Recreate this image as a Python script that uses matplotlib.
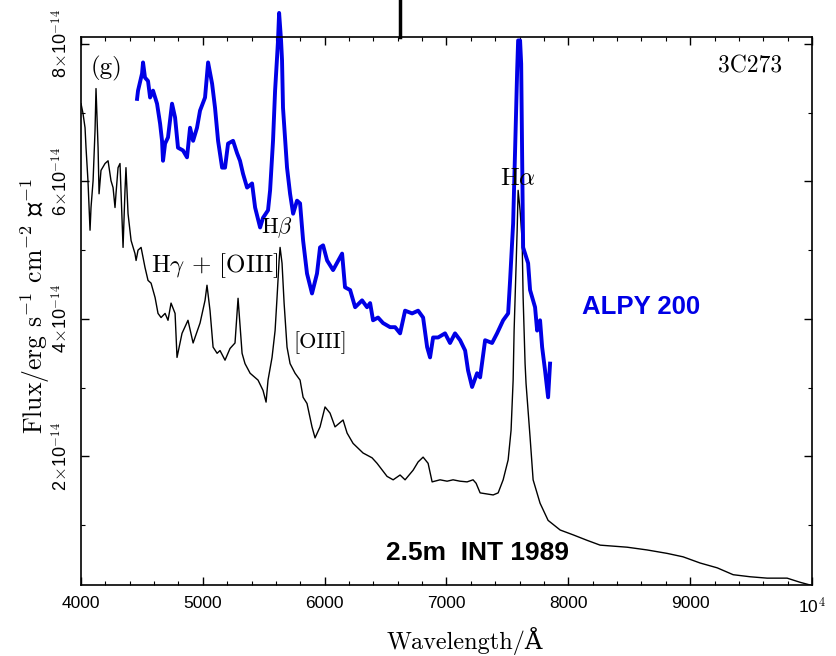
import numpy as np
import matplotlib
matplotlib.use('Agg')
import matplotlib.pyplot as plt
from matplotlib.ticker import MultipleLocator

plt.rcParams['font.family'] = ['cmr10', 'DejaVu Serif']
plt.rcParams['mathtext.fontset'] = 'cm'

# 2.5m INT 1989 spectrum of 3C273 (wavelength in A, flux in 1e-14 erg/s/cm2/A)
int_wave = [4000, 4016, 4033, 4041, 4057, 4074, 4082, 4099, 4115, 4123, 4140, 4148, 4164, 4197,
            4222, 4246, 4263, 4279, 4287, 4304, 4320, 4328, 4345, 4361, 4369, 4386, 4411, 4443,
            4452, 4468, 4493, 4525, 4550, 4575, 4608, 4632, 4657, 4690, 4714, 4739, 4772, 4788,
            4829, 4878, 4920, 4977, 5018, 5034, 5059, 5084, 5117, 5141, 5182, 5223, 5264, 5289,
            5322, 5346, 5388, 5453, 5494, 5519, 5535, 5568, 5593, 5609, 5626, 5634, 5650, 5667,
            5691, 5716, 5757, 5798, 5823, 5855, 5896, 5921, 5962, 6003, 6044, 6085, 6151, 6184,
            6233, 6315, 6389, 6430, 6512, 6562, 6619, 6660, 6726, 6767, 6808, 6849, 6882, 6947,
            7005, 7054, 7111, 7169, 7218, 7243, 7276, 7383, 7424, 7465, 7506, 7530, 7547, 7555,
            7563, 7580, 7588, 7604, 7621, 7629, 7645, 7653, 7686, 7711, 7768, 7834, 7933, 8039,
            8154, 8261, 8483, 8647, 8811, 8942, 9082, 9222, 9353, 9493, 9632, 9796, 9902, 9985]
int_flux = [7.13, 6.99, 6.78, 6.49, 6.01, 5.29, 5.62, 6.01, 6.74, 7.35, 6.49, 5.82, 6.16, 6.26,
            6.30, 6.01, 5.91, 5.62, 5.82, 6.20, 6.26, 5.87, 5.04, 5.87, 6.20, 5.53, 5.14, 4.95,
            4.85, 5.00, 5.04, 4.75, 4.56, 4.52, 4.31, 4.08, 4.02, 4.08, 3.98, 4.23, 4.08, 3.44,
            3.79, 3.98, 3.65, 3.94, 4.27, 4.49, 4.12, 3.59, 3.50, 3.54, 3.40, 3.57, 3.65, 4.30,
            3.50, 3.35, 3.21, 3.11, 2.96, 2.79, 3.11, 3.44, 3.83, 4.31, 4.85, 5.04, 4.81, 4.23,
            3.59, 3.35, 3.21, 3.11, 2.86, 2.77, 2.43, 2.27, 2.43, 2.72, 2.63, 2.43, 2.53, 2.34,
            2.19, 2.05, 1.98, 1.90, 1.71, 1.66, 1.73, 1.66, 1.80, 1.92, 1.99, 1.90, 1.63, 1.66,
            1.64, 1.66, 1.64, 1.63, 1.66, 1.61, 1.47, 1.44, 1.47, 1.66, 1.95, 2.38, 3.11, 3.83,
            4.31, 5.29, 5.87, 5.58, 5.14, 4.31, 3.35, 3.06, 2.28, 1.66, 1.32, 1.07, 0.93, 0.86,
            0.78, 0.71, 0.68, 0.64, 0.59, 0.54, 0.45, 0.38, 0.28, 0.25, 0.23, 0.23, 0.17, 0.13]

# ALPY 200 spectrum
alpy_wave = [4460, 4468, 4501, 4509, 4525, 4550, 4567, 4591, 4624, 4649, 4665, 4673, 4690, 4714,
             4747, 4772, 4796, 4837, 4870, 4895, 4920, 4952, 4977, 5018, 5043, 5076, 5100, 5125,
             5158, 5182, 5207, 5248, 5281, 5305, 5330, 5363, 5404, 5429, 5470, 5494, 5535, 5552,
             5576, 5593, 5609, 5617, 5626, 5642, 5650, 5658, 5691, 5716, 5741, 5773, 5798, 5823,
             5855, 5896, 5937, 5962, 5987, 6020, 6069, 6143, 6167, 6209, 6250, 6307, 6348, 6373,
             6397, 6438, 6479, 6537, 6578, 6619, 6660, 6718, 6767, 6808, 6841, 6865, 6890, 6931,
             6988, 7029, 7070, 7112, 7153, 7177, 7210, 7251, 7276, 7317, 7374, 7415, 7465, 7506,
             7522, 7547, 7563, 7580, 7588, 7604, 7613, 7621, 7629, 7670, 7686, 7727, 7744, 7768,
             7785, 7809, 7834, 7850]
alpy_flux = [7.20, 7.32, 7.57, 7.73, 7.51, 7.46, 7.22, 7.32, 7.13, 6.84, 6.59, 6.30, 6.55, 6.64,
             7.13, 6.93, 6.49, 6.45, 6.35, 6.78, 6.59, 6.78, 7.03, 7.22, 7.73, 7.42, 7.07, 6.59,
             6.20, 6.20, 6.55, 6.59, 6.41, 6.30, 6.11, 5.91, 5.97, 5.62, 5.33, 5.47, 5.58, 5.87,
             6.59, 7.32, 7.80, 8.05, 8.45, 8.05, 7.76, 7.07, 6.20, 5.82, 5.53, 5.72, 5.68, 5.14,
             4.66, 4.37, 4.66, 5.04, 5.07, 4.85, 4.71, 4.95, 4.46, 4.42, 4.17, 4.27, 4.17, 4.23,
             3.98, 4.02, 3.94, 3.88, 3.88, 3.79, 4.12, 4.08, 4.12, 4.02, 3.59, 3.44, 3.73, 3.73,
             3.79, 3.65, 3.79, 3.69, 3.54, 3.25, 3.01, 3.21, 3.15, 3.69, 3.65, 3.79, 3.98, 4.08,
             4.56, 5.39, 6.45, 7.61, 8.05, 8.05, 7.71, 6.35, 5.04, 4.81, 4.42, 4.17, 3.83, 3.98,
             3.59, 3.25, 2.86, 3.35]

x_ticks = [4000, 5000, 6000, 7000, 8000, 9000, 10000]
x_labels = ['4000', '5000', '6000', '7000', '8000', '9000', '10$^4$']
y_ticks = [2, 4, 6, 8]
y_labels = ['2$\\times$10$^{-14}$', '4$\\times$10$^{-14}$', '6$\\times$10$^{-14}$', '8$\\times$10$^{-14}$']

fig = plt.figure(figsize=(8.37, 6.56), dpi=100)
ax = fig.add_axes([0.0968, 0.1082, 0.8733, 0.8354])

ax.plot(int_wave, int_flux, color='black', lw=1.0)
ax.plot(alpy_wave, alpy_flux, color='#0000e6', lw=2.8, clip_on=False)

ax.set_xlim(4000, 10000)
ax.set_ylim(0.13, 8.1)
ax.set_xticks(x_ticks)
ax.set_xticklabels(x_labels, family='Liberation Sans', fontsize=12.5)
ax.set_yticks(y_ticks)
ax.set_yticklabels(y_labels, family='Liberation Sans', fontsize=13, rotation=90, va='center')
ax.xaxis.set_minor_locator(MultipleLocator(200))
ax.yaxis.set_minor_locator(MultipleLocator(1))
ax.tick_params(which='both', direction='in', top=True, right=True)
ax.tick_params(which='major', length=6, width=1)
ax.tick_params(which='minor', length=3, width=0.8)
ax.tick_params(axis='x', pad=8)
ax.tick_params(axis='y', pad=7)
for s in ax.spines.values():
    s.set_linewidth(1.2)

ax.set_xlabel('Wavelength/Å', fontsize=17.5)
ax.set_ylabel('Flux/erg s$^{-1}$ cm$^{-2}$ Å$^{-1}$', fontsize=18.5)
ax.xaxis.set_label_coords(0.525, -0.077)
ax.yaxis.set_label_coords(-0.040, 0.509)

# annotations
ax.text(4213, 7.64, '(g)', fontsize=18, ha='center', va='center')
ax.text(9493, 7.67, '3C273', fontsize=17, ha='center', va='center')
ax.text(7588, 6.04, 'H$\\alpha$', fontsize=18, ha='center', va='center')
ax.text(5609, 5.32, 'H$\\beta$', fontsize=16, ha='center', va='center')
ax.text(5100, 4.78, 'H$\\gamma$ + [OIII]', fontsize=18, ha='center', va='center')
ax.text(5962, 3.66, '[OIII]', fontsize=16, ha='center', va='center')
ax.text(8598, 4.18, 'ALPY 200', fontsize=18.5, ha='center', va='center', color='#0000e6',
        family='Liberation Sans', fontweight='bold')
ax.text(7251, 0.60, '2.5m  INT 1989', fontsize=19, ha='center', va='center',
        family='Liberation Sans', fontweight='bold')

# black mark above the frame in the scan
ax.axvline(6620, ymin=1.0, ymax=1.07, color='black', lw=2.5, clip_on=False)

fig.savefig('out.png', dpi=100)
